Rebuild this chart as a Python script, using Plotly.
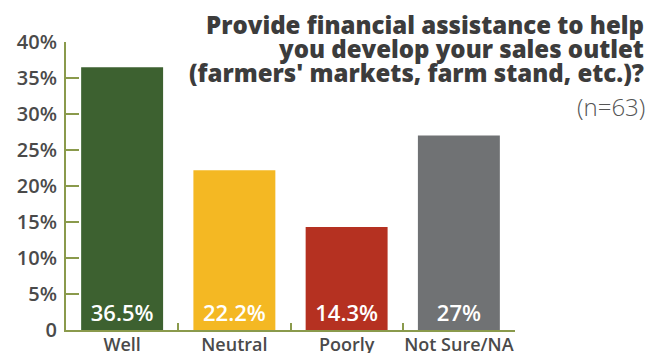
import plotly.graph_objects as go

categories = ["Well", "Neutral", "Poorly", "Not Sure/NA"]
values = [36.5, 22.2, 14.3, 27]
colors = ["#3d6130", "#f4b823", "#b53121", "#707274"]
tick_vals = [0, 5, 10, 15, 20, 25, 30, 35, 40]
tick_text = ["0", "5%", "10%", "15%", "20%", "25%", "30%", "35%", "40%"]

title_lines = [
    "Provide financial assistance to help",
    "you develop your sales outlet",
    "(farmers' markets, farm stand, etc.)?",
]
subtitle = "(n=63)"

axis_color = "#8a9a4c"
text_color = "#4a4a4a"
font_family = "'Open Sans', Lato, sans-serif"

# plot area in pixels: x 66..515, y 42..330
PX_L, PX_R, PX_T, PX_B = 66, 515, 42, 330
W, H = 650, 353


def paper_x(px):
    return (px - PX_L) / (PX_R - PX_L)


def paper_y(py):
    return (PX_B - py) / (PX_B - PX_T)


fig = go.Figure(
    go.Bar(
        x=categories,
        y=values,
        marker=dict(color=colors, line=dict(width=0)),
        text=[f"{v:g}%" for v in values],
        textposition="inside",
        insidetextanchor="start",
        textangle=0,
        textfont=dict(color="white", size=22, family=font_family, weight=600),
        width=0.73,
        hoverinfo="x+y",
    )
)

fig.update_layout(
    width=W,
    height=H,
    margin=dict(l=PX_L, r=W - PX_R, t=PX_T, b=H - PX_B, autoexpand=False),
    plot_bgcolor="white",
    paper_bgcolor="white",
    showlegend=False,
    font=dict(family=font_family, color=text_color),
    uniformtext=dict(mode=False),
)

fig.update_yaxes(
    range=[0, 40],
    tickvals=tick_vals,
    ticktext=tick_text,
    showgrid=False,
    zeroline=False,
    showline=True,
    linecolor=axis_color,
    linewidth=2,
    ticks="inside",
    ticklen=13,
    tickwidth=2,
    tickcolor=axis_color,
    tickfont=dict(size=20, color=text_color, family=font_family, weight=600),
    ticklabelstandoff=3,
    automargin=False,
    fixedrange=True,
)

fig.update_xaxes(
    showgrid=False,
    showline=True,
    linecolor=axis_color,
    linewidth=2,
    ticks="inside",
    tickson="boundaries",
    ticklen=7,
    tickwidth=2,
    tickcolor=axis_color,
    tickangle=0,
    tickfont=dict(size=18, color=text_color, family=font_family, weight=600),
    ticklabelstandoff=-3,
    automargin=False,
    fixedrange=True,
)

# Right-aligned bold question title with the sample size beneath it
title_centers = [24, 48.5, 73]
for line, cy in zip(title_lines, title_centers):
    fig.add_annotation(
        text=line,
        xref="paper", yref="paper",
        x=paper_x(646), y=paper_y(cy),
        xanchor="right", yanchor="middle",
        showarrow=False,
        font=dict(size=24, color="#3c3c3c", family=font_family, weight=800),
    )
fig.add_annotation(
    text=subtitle,
    xref="paper", yref="paper",
    x=paper_x(647), y=paper_y(106),
    xanchor="right", yanchor="middle",
    showarrow=False,
    font=dict(size=24, color="#555555", family=font_family, weight=300),
)

fig.write_html("out.html")
